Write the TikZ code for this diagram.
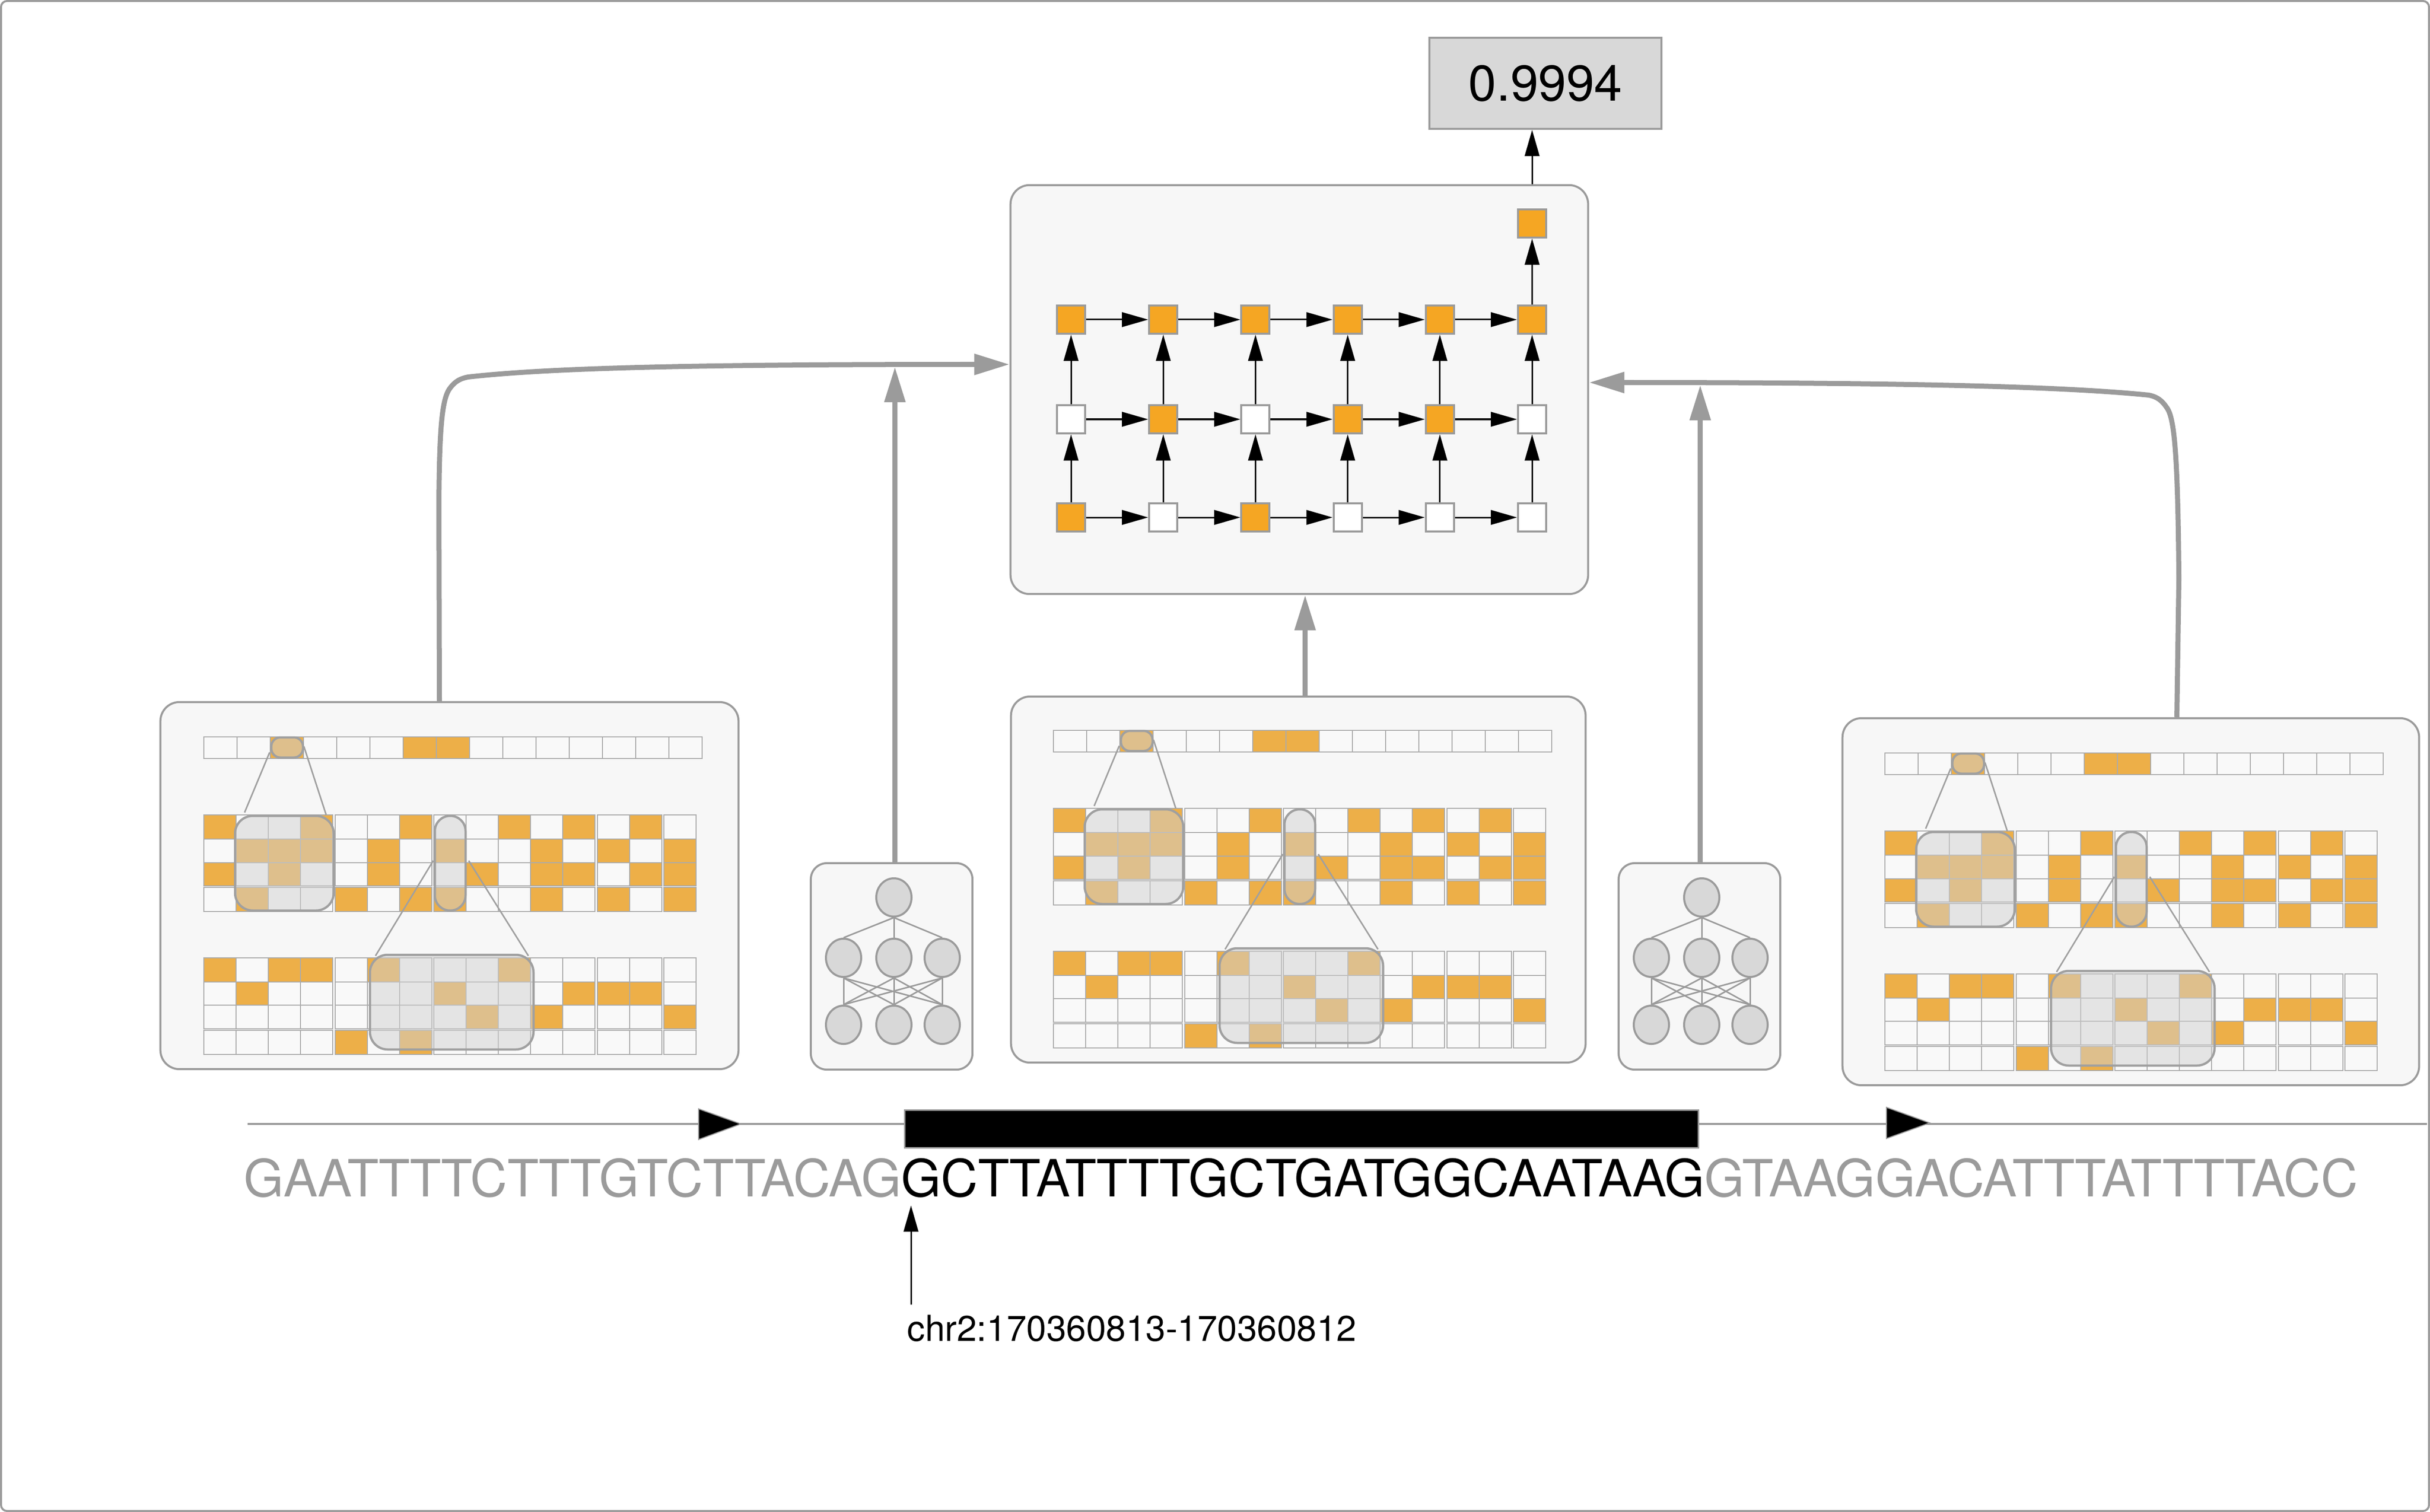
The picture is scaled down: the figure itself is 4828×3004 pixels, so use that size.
\documentclass[tikz,border=0pt]{standalone}
\usepackage{fontspec}
\setmainfont{TeX Gyre Heros}
\usetikzlibrary{arrows.meta,shapes.geometric}
\definecolor{lgray}{HTML}{9B9B9B}
\definecolor{panelfill}{HTML}{F7F7F7}
\definecolor{rorange}{HTML}{F5A623}
\definecolor{morange}{HTML}{EDAF48}
\definecolor{mwhite}{HTML}{F9F9F9}
\definecolor{cellline}{HTML}{ABABAB}
\definecolor{ovgray}{HTML}{D0D0D0}
\definecolor{hlgray}{HTML}{A0A0A0}
\definecolor{nfill}{HTML}{D8D8D8}
\tikzset{
 panel/.style={draw=lgray, fill=panelfill, line width=0.04cm, rounded corners=0.38cm, inner sep=0pt},
 rcell/.style={draw=lgray, line width=0.04cm, minimum size=0.56cm, inner sep=0pt},
 barrow/.style={draw=black, line width=0.03cm, -{Triangle[length=0.52cm,width=0.29cm]}},
 garrow/.style={draw=lgray, line width=0.1cm, -{Triangle[length=0.7cm,width=0.4cm]}},
 mcell/.style={draw=cellline, line width=0.02cm},
 hl/.style={draw=hlgray, line width=0.045cm, fill=ovgray, fill opacity=0.5},
 zoomline/.style={draw=hlgray, line width=0.03cm},
 neuron/.style={ellipse, draw=lgray, fill=nfill, line width=0.04cm, minimum width=0.70cm, minimum height=0.76cm, inner sep=0pt},
 nnedge/.style={draw=lgray, line width=0.03cm},
}
\newcommand\mrow[3]{%
 \foreach \f [count=\i from 0] in {#3}{%
  \pgfmathsetmacro\xx{64*\i+5*(\i>3)+4*(\i>6)+5*(\i>11)+4*(\i>13)}%
  \ifnum\f=1 \def\cf{morange}\else\def\cf{mwhite}\fi
  \draw[mcell,fill=\cf] (\xx,#1) rectangle ++(64,#2);
 }}
\newcommand\matcontent[2]{%
 \begin{scope}[shift={(#1,#2)}]
  \foreach \i in {0,...,14}{\draw[mcell,fill=mwhite] (66*\i,0) rectangle ++(66,43);}
  \foreach \i in {2,6,7}{\draw[mcell,fill=morange] (66*\i,0) rectangle ++(66,43);}
  \mrow{155}{47.5}{1,0,0,1,0,0,1,0,0,1,0,1,0,1,0}
  \mrow{202.5}{47.5}{0,1,1,1,0,1,0,1,0,0,1,0,1,0,1}
  \mrow{250}{46}{1,0,1,0,0,1,0,0,1,0,1,1,0,1,1}
  \mrow{299}{47.5}{0,1,0,0,1,0,1,1,0,0,1,0,1,0,1}
  \mrow{439}{47.5}{1,0,1,1,0,1,0,0,0,1,0,0,0,0,0}
  \mrow{486.5}{46.5}{0,1,0,0,0,0,0,1,0,0,0,1,1,1,0}
  \mrow{533}{47}{0,0,0,0,0,0,0,0,1,0,1,0,0,0,1}
  \mrow{583}{47.5}{0,0,0,0,1,0,1,0,0,0,0,0,0,0,0}
  \draw[zoomline] (130.7,30.8) -- (80.9,150.3);
  \draw[zoomline] (198.7,18.8) -- (243.1,155.1);
  \draw[zoomline] (455.8,246) -- (341,435);
  \draw[zoomline] (526.2,246) -- (644.8,435);
  \draw[hl, rounded corners=0.18cm] (134,1) rectangle (197,41);
  \draw[hl, rounded corners=0.35cm] (62,157) rectangle (258,345);
  \draw[hl, rounded corners=0.30cm] (459,157) rectangle (520,345);
  \draw[hl, rounded corners=0.35cm] (330,433) rectangle (655,621);
 \end{scope}}
\newcommand\nnbox[3]{%
 \node[panel, rounded corners=0.32cm, minimum width=3.21cm, minimum height=4.10cm] (#1) at (#2+162.5,#3+207) {};
 \node[neuron] (#1t) at (#2+167,#3+70) {};
 \node[neuron] (#1m1) at (#2+67,#3+190) {};
 \node[neuron] (#1m2) at (#2+167,#3+190) {};
 \node[neuron] (#1m3) at (#2+263,#3+190) {};
 \node[neuron] (#1b1) at (#2+67,#3+323) {};
 \node[neuron] (#1b2) at (#2+167,#3+323) {};
 \node[neuron] (#1b3) at (#2+263,#3+323) {};
 \foreach \k in {1,2,3}{\draw[nnedge] (#1t.south) -- (#1m\k.north);
   \foreach \l in {1,2,3}{\draw[nnedge] (#1m\k.south) -- (#1b\l.north);}}
}
\begin{document}
\begin{tikzpicture}[x=0.01cm,y=-0.01cm]
\useasboundingbox (0,0) rectangle (4828,3004);
\draw[lgray, line width=0.04cm, rounded corners=0.12cm] (2,2) rectangle (4826,3002);

% output
\node[draw=lgray, fill=nfill, line width=0.04cm, minimum width=4.61cm, minimum height=1.81cm, inner sep=0pt, font=\fontsize{28.45pt}{30pt}\selectfont] (out) at (3070.5,165.5) {0.9994};

% RNN panel
\node[panel, minimum width=11.47cm, minimum height=8.12cm] (rnn) at (2581.5,774) {};
\foreach \c [count=\i] in {rorange,white,rorange,white,white,white}{\node[rcell, fill=\c] (a\i) at ({2128+183.2*(\i-1)},1028) {};}
\foreach \c [count=\i] in {white,rorange,white,rorange,rorange,white}{\node[rcell, fill=\c] (b\i) at ({2128+183.2*(\i-1)},833) {};}
\foreach \c [count=\i] in {rorange,rorange,rorange,rorange,rorange,rorange}{\node[rcell, fill=\c] (c\i) at ({2128+183.2*(\i-1)},635) {};}
\node[rcell, fill=rorange] (top) at (3044,444) {};
\foreach \r in {a,b,c}{\foreach \i [evaluate=\i as \j using int(\i+1)] in {1,...,5}{\draw[barrow] (\r\i) -- (\r\j);}}
\foreach \i in {1,...,6}{\draw[barrow] (a\i) -- (b\i); \draw[barrow] (b\i) -- (c\i);}
\draw[barrow] (c6) -- (top);
\draw[barrow] (top |- rnn.north) -- (top |- out.south);

% matrix panels
\node[panel, minimum width=11.48cm, minimum height=7.29cm] (lp) at (893,1759.5) {};
\node[panel, minimum width=11.41cm, minimum height=7.27cm] (mp) at (2579.5,1747.5) {};
\node[panel, minimum width=11.45cm, minimum height=7.29cm] (rp) at (4233.5,1791.5) {};
\matcontent{405}{1464}
\matcontent{2093}{1451}
\matcontent{3745}{1496}

% small networks
\nnbox{nl}{1609}{1713}
\nnbox{nr}{3214}{1713}

% gray connectors
\coordinate (lx) at (873,0);
\coordinate (ly) at (0,724);
\draw[garrow] (lx |- lp.north) -- (872,1000) .. controls (873,850) and (878,790) .. (895,770) .. controls (905,757) and (915,752) .. (930,749) .. controls (1100,730) and (1400,724) .. (1936,724) -- (rnn.west |- ly);
\coordinate (rx) at (4325,0);
\coordinate (ry) at (0,760);
\draw[garrow] (rx |- rp.north) -- (4329,1150) .. controls (4327,900) and (4320,830) .. (4305,810) .. controls (4295,795) and (4285,788) .. (4269,785) .. controls (4100,768) and (3800,760) .. (3221,760) -- (rnn.east |- ry);
\coordinate (mx) at (2593,0);
\draw[garrow] (mx |- mp.north) -- (mx |- rnn.south);
\coordinate (nlx) at (1778,729);
\draw[garrow] (nlx |- nl.north) -- (nlx);
\coordinate (nrx) at (3378,765);
\draw[garrow] (nrx |- nr.north) -- (nrx);

% gene structure
\draw[lgray, line width=0.04cm] (492,2233) -- (4822,2233);
\draw[draw=lgray, fill=black, line width=0.02cm] (1388,2203) -- (1472,2233) -- (1388,2264) -- cycle;
\draw[draw=lgray, fill=black, line width=0.02cm] (3748,2200) -- (3834,2231) -- (3748,2262) -- cycle;
\draw[draw=lgray, fill=black, line width=0.03cm] (1797,2205) rectangle (3374,2280);

\node[anchor=base west, inner sep=0pt, font=\fontsize{29.0pt}{31pt}\selectfont] (seq) at (484,2377) {\textcolor{lgray}{GAATTTTCTTTGTCTTACAG}GCTTATTTTGCTGATGGCAATAAG\textcolor{lgray}{GTAAGGACATTTATTTTACC}};

\node[anchor=base west, inner sep=0pt, font=\fontsize{20.2pt}{22pt}\selectfont] (chr) at (1802,2664) {chr2:170360813-170360812};
\coordinate (cbot) at (1810,2592);
\coordinate (ctop) at (1810,2395);
\draw[barrow] (cbot) -- (ctop);
\end{tikzpicture}
\end{document}
